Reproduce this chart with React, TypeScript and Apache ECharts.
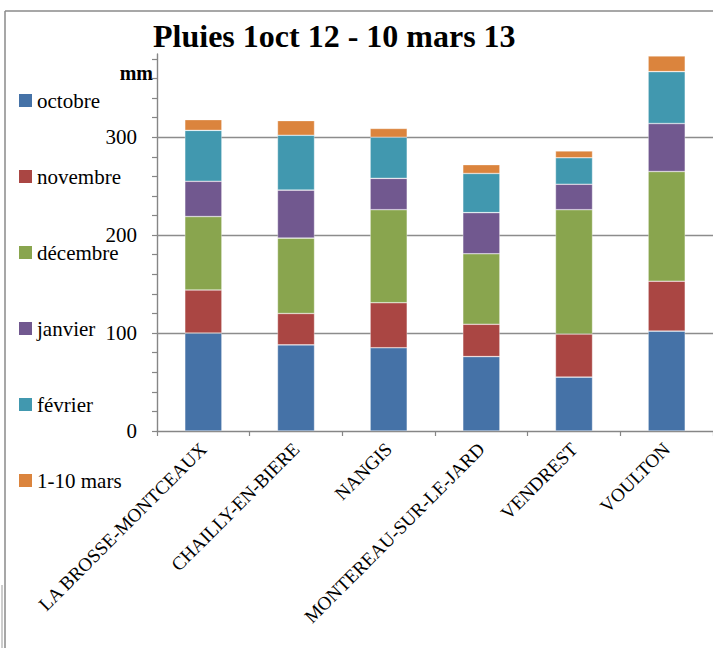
import React, { useEffect, useRef } from "react";
import * as echarts from "echarts";

const categories = [
  "LA BROSSE-MONTCEAUX",
  "CHAILLY-EN-BIERE",
  "NANGIS",
  "MONTEREAU-SUR-LE-JARD",
  "VENDREST",
  "VOULTON",
];
const seriesNames = ["octobre", "novembre", "décembre", "janvier", "février", "1-10 mars"];
const octobre = [100, 88, 85, 76, 55, 102];
const novembre = [44, 32, 46, 33, 44, 51];
const decembre = [75, 77, 95, 72, 127, 112];
const janvier = [36, 49, 32, 42, 26, 49];
const fevrier = [52, 56, 42, 40, 27, 53];
const mars = [11, 15, 9, 9, 7, 16];
const gridValues = [100, 200, 300];
const colors = ["#4572A7", "#AA4643", "#89A54E", "#71588F", "#4198AF", "#DB843D"];

const SERIF = "Liberation Serif";

export default function App() {
  const ref = useRef<HTMLDivElement>(null);
  useEffect(() => {
    if (!ref.current) return;
    const chart = echarts.init(ref.current, null, { renderer: "svg" });
    const values = [octobre, novembre, decembre, janvier, fevrier, mars];
    const series: any[] = values.map((data, i) => ({
      name: seriesNames[i],
      type: "bar",
      stack: "total",
      barWidth: "40%",
      data,
      itemStyle: { color: colors[i], borderColor: "rgba(255,255,255,0.55)", borderWidth: 0.6 },
      ...(i === 0
        ? {
            markLine: {
              silent: true,
              z: 1,
              symbol: "none",
              label: { show: false },
              lineStyle: { color: "#8c8c8c", width: 1.4, type: "solid" },
              data: gridValues.map((v) => ({ yAxis: v })),
            },
          }
        : {}),
    }));
    chart.setOption({
      animation: false,
      backgroundColor: "#ffffff",
      color: colors,
      textStyle: { fontFamily: SERIF },
      title: {
        text: "Pluies 1oct 12 - 10 mars 13",
        left: 153,
        top: 20,
        padding: 0,
        textStyle: { fontFamily: SERIF, fontWeight: "bold", fontSize: 32, color: "#000" },
      },
      legend: {
        orient: "vertical",
        left: 19,
        top: 90,
        padding: 0,
        itemWidth: 13,
        itemHeight: 13,
        itemGap: 55,
        icon: "rect",
        itemStyle: { borderWidth: 0 },
        textStyle: { fontFamily: SERIF, fontSize: 21, color: "#000", lineHeight: 20 },
        data: seriesNames,
      },
      grid: { left: 157, right: -1, top: 54, bottom: 217, containLabel: false },
      xAxis: {
        type: "category",
        data: categories,
        axisLine: { lineStyle: { color: "#868686", width: 1.4 } },
        axisTick: { show: true, length: 5, lineStyle: { color: "#868686", width: 1.2 } },
        axisLabel: {
          rotate: 45,
          margin: 15,
          interval: 0,
          fontFamily: SERIF,
          fontSize: 19,
          color: "#000",
        },
      },
      yAxis: {
        type: "value",
        min: 0,
        max: 385,
        interval: 20,
        name: "mm",
        nameLocation: "end",
        nameGap: -19,
        nameTextStyle: {
          fontFamily: SERIF,
          fontWeight: "bold",
          fontSize: 20,
          color: "#000",
          align: "right",
          verticalAlign: "middle",
          padding: [0, 4, 0, 0],
        },
        axisLine: { show: true, lineStyle: { color: "#868686", width: 1.4 } },
        axisTick: { show: true, length: 5, lineStyle: { color: "#868686", width: 1.2 } },
        splitLine: { show: false },
        axisLabel: {
          margin: 20,
          fontFamily: SERIF,
          fontSize: 21,
          color: "#000",
          showMaxLabel: false,
          formatter: (v: number) => (v % 100 === 0 ? String(v) : ""),
        },
      },
      graphic: [
        { type: "line", shape: { x1: 5, y1: 11, x2: 713, y2: 11 }, style: { stroke: "#8a8a8a", lineWidth: 1.5 } },
        { type: "line", shape: { x1: 5, y1: 11, x2: 5, y2: 648 }, style: { stroke: "#8a8a8a", lineWidth: 1.5 } },
        { type: "line", shape: { x1: 2, y1: 585, x2: 2, y2: 648 }, style: { stroke: "#9a9a9a", lineWidth: 1 } },
      ],
      series,
    });
    return () => chart.dispose();
  }, []);
  return (
    <div
      ref={ref}
      style={{ position: "fixed", left: 0, top: 0, width: 713, height: 648, background: "#fff" }}
    />
  );
}
